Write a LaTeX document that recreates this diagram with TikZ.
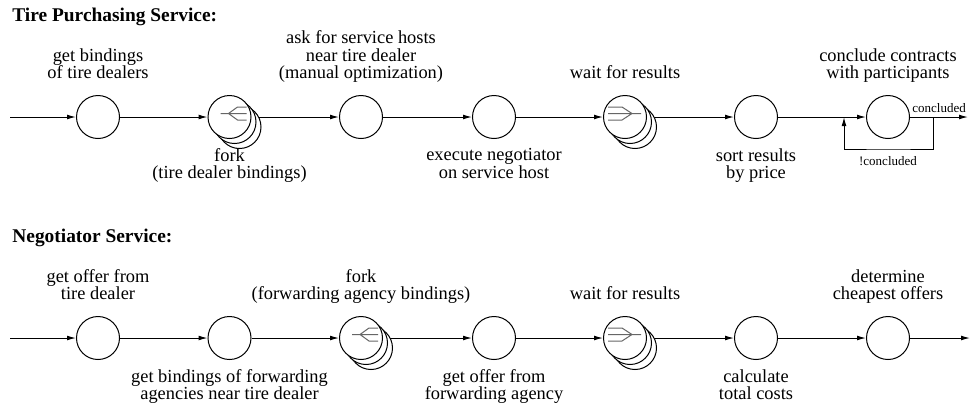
\documentclass[tikz,border=0pt]{standalone}
\usepackage{fontspec}
\setmainfont{Liberation Serif}
\usetikzlibrary{arrows.meta}
\pgfdeclarelayer{bg}
\pgfsetlayers{bg,main}
\newcommand\stackcirc[3]{%
  \node[st] (#1c) at (#2+10,#3+10) {};
  \node[st] (#1b) at (#2+5,#3+5) {};
  \node[st] (#1) at (#2,#3) {};}
\newcommand\forksym[1]{%
  \begin{scope}[shift={(#1.center)}]
    \draw[sym] (-9,-3.5) -- (17,-3.5) (-1,-3.5) -- (8,-10) -- (17,-10) (-1,-3.5) -- (8,3) -- (17,3);
  \end{scope}}
\newcommand\joinsym[1]{%
  \begin{scope}[shift={(#1.center)}]
    \draw[sym] (-17,-3.5) -- (16,-3.5) (-17,-10) -- (-3,-10) -- (7,-3.5) (-17,3) -- (-3,3) -- (7,-3.5);
  \end{scope}}
\begin{document}
\begin{tikzpicture}[x=0.5pt,y=-0.5pt,
  st/.style={circle,draw,fill=white,line width=0.5pt,minimum size=21.5pt,inner sep=0pt},
  lab/.style={font=\fontsize{9.2}{8.75}\selectfont,align=center,inner sep=0pt},
  above lab/.style={lab,anchor=south,text depth=0pt},
  below lab/.style={lab,anchor=north},
  small lab/.style={font=\fontsize{6.5}{7}\selectfont,inner sep=0pt},
  title/.style={font=\fontsize{9.7}{11}\selectfont\bfseries,anchor=base west,inner sep=0pt},
  conn/.style={line width=0.5pt,-{Latex[length=4.5pt,width=2.4pt]}},
  sym/.style={line width=0.5pt,draw=black!60}
]
\useasboundingbox (0,0) rectangle (975,409);

% ---------- Tire Purchasing Service ----------
\node[title] (title1) at (12,21) {Tire Purchasing Service:};
\coordinate (tin) at (10,117);
\node[st] (t1) at (98,117) {};
\stackcirc{t2}{229.5}{117}
\node[st] (t3) at (361,117) {};
\node[st] (t4) at (494,117) {};
\stackcirc{t5}{625}{117}
\node[st] (t6) at (756,117) {};
\node[st] (t7) at (888,117) {};
\coordinate (tout) at (968,117);
\coordinate (fbR) at (933,117);
\coordinate (fbB) at (888,149);
\coordinate (fbL) at (844,117);
\forksym{t2}
\joinsym{t5}

\node[above lab] (lt1) at (98,79) {get bindings\\of tire dealers};
\node[below lab] (lt2) at (229.5,148) {fork\\(tire dealer bindings)};
\node[above lab] (lt3) at (361,79) {ask for service hosts\\near tire dealer\\(manual optimization)};
\node[below lab] (lt4) at (494,148) {execute negotiator\\on service host};
\node[above lab] (lt5) at (625,79) {wait for results};
\node[below lab] (lt6) at (756,148) {sort results\\by price};
\node[above lab] (lt7) at (888,79) {conclude contracts\\with participants};
\node[small lab,anchor=base west] (lc) at (912,112) {concluded};
\node[small lab] (lnc) at (888,161) {!concluded};

\begin{pgfonlayer}{bg}
\draw[conn] (tin) -- (t1);
\draw[conn] (t1) -- (t2);
\draw[conn] (t2) -- (t3);
\draw[conn] (t3) -- (t4);
\draw[conn] (t4) -- (t5);
\draw[conn] (t5) -- (t6);
\draw[conn] (t6) -- (t7);
\draw[conn] (t7) -- (tout);
\draw[conn] (fbR) |- (fbB) -| (fbL);
\end{pgfonlayer}

% ---------- Negotiator Service ----------
\node[title] (title2) at (12,242) {Negotiator Service:};
\coordinate (bin) at (10,338);
\node[st] (b1) at (98,338) {};
\node[st] (b2) at (229.5,338) {};
\stackcirc{b3}{361}{338}
\node[st] (b4) at (494,338) {};
\stackcirc{b5}{625}{338}
\node[st] (b6) at (756,338) {};
\node[st] (b7) at (888,338) {};
\coordinate (bout) at (970,338);
\forksym{b3}
\joinsym{b5}

\node[above lab] (lb1) at (98,300) {get offer from\\tire dealer};
\node[below lab] (lb2) at (229.5,369) {get bindings of forwarding\\agencies near tire dealer};
\node[above lab] (lb3) at (361,300) {fork\\(forwarding agency bindings)};
\node[below lab] (lb4) at (494,369) {get offer from\\forwarding agency};
\node[above lab] (lb5) at (625,300) {wait for results};
\node[below lab] (lb6) at (756,369) {calculate\\total costs};
\node[above lab] (lb7) at (888,300) {determine\\cheapest offers};

\begin{pgfonlayer}{bg}
\draw[conn] (bin) -- (b1);
\draw[conn] (b1) -- (b2);
\draw[conn] (b2) -- (b3);
\draw[conn] (b3) -- (b4);
\draw[conn] (b4) -- (b5);
\draw[conn] (b5) -- (b6);
\draw[conn] (b6) -- (b7);
\draw[conn] (b7) -- (bout);
\end{pgfonlayer}
\end{tikzpicture}
\end{document}
